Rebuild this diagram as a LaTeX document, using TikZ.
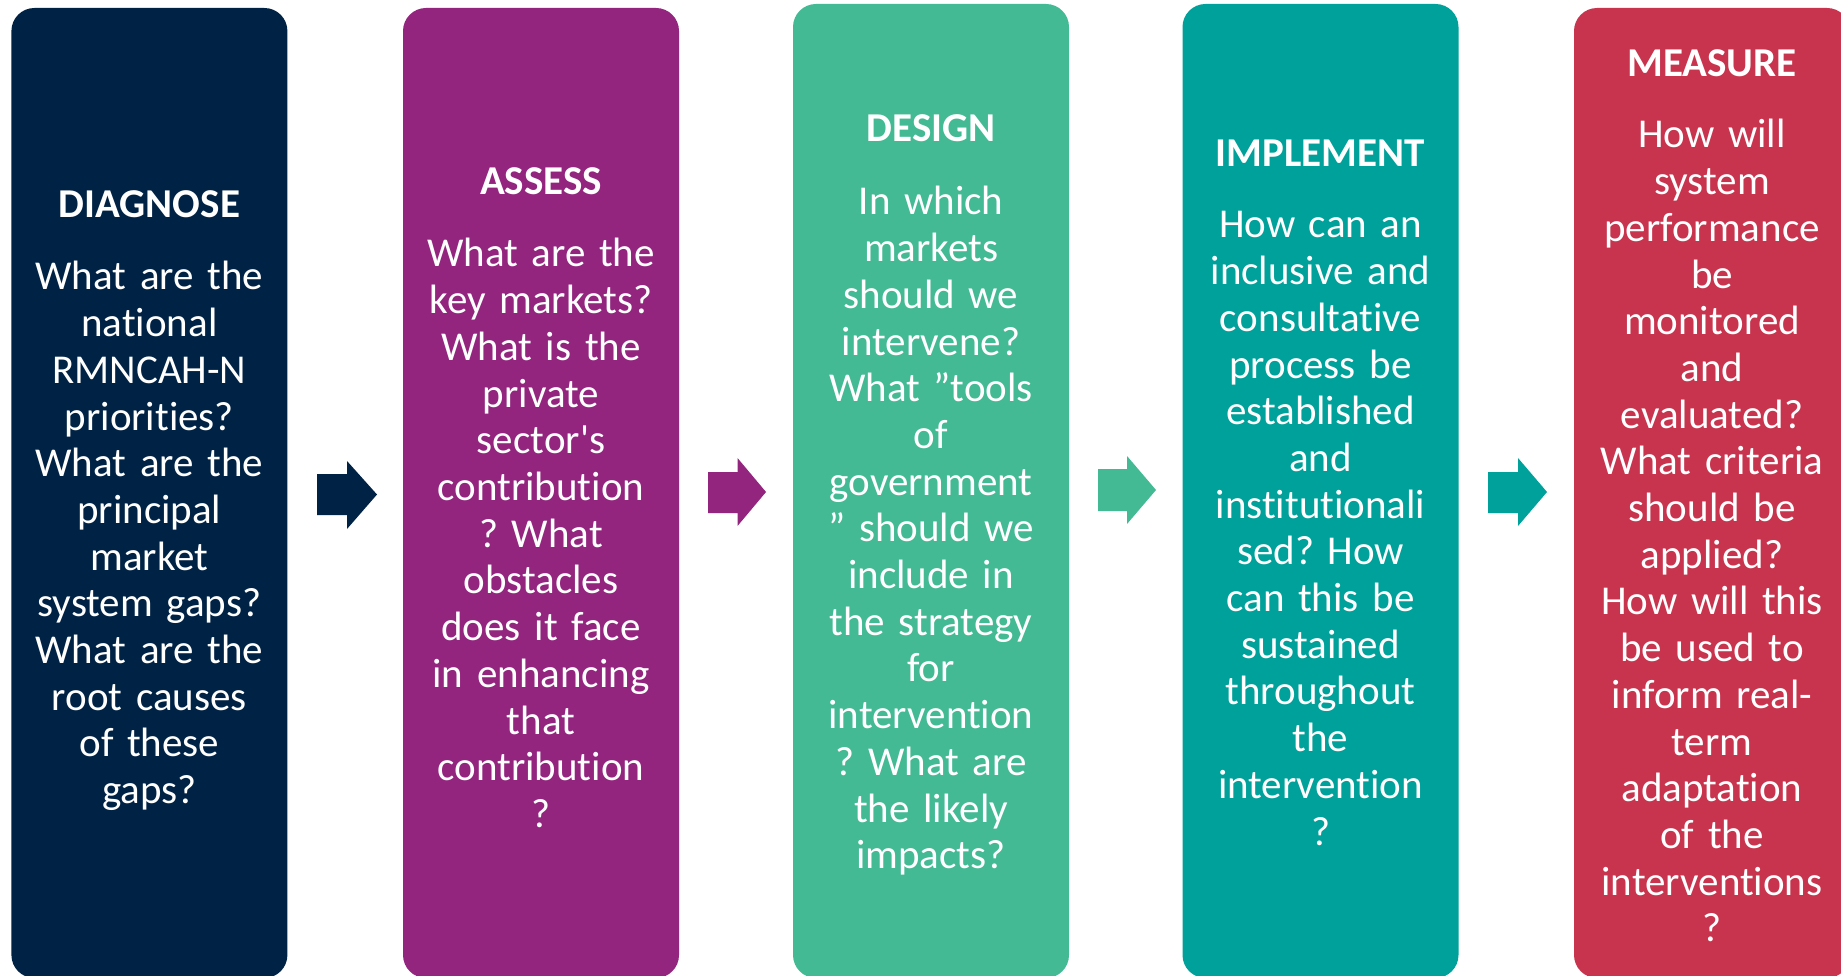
\documentclass[tikz,border=0pt]{standalone}
\usepackage{fontspec}
\setmainfont{Carlito}[Ligatures={NoCommon}]
\newfontfamily\rawcarlito{Carlito}[Ligatures={ResetAll}]
\newcommand{\straightquote}{{\rawcarlito\char"0027}}
\frenchspacing
\definecolor{cnavy}{RGB}{0,35,69}
\definecolor{cpurple}{RGB}{147,37,127}
\definecolor{cgreen}{RGB}{67,186,148}
\definecolor{cteal}{RGB}{0,161,154}
\definecolor{cred}{RGB}{200,51,77}
\tikzset{
  box/.style={rectangle, rounded corners=23pt, minimum width=276pt, inner sep=0pt, draw=none},
  hdr/.style={text=white, font=\fontsize{41}{46.7}\selectfont\bfseries, inner sep=0pt, anchor=base},
  body/.style={text=white, font=\fontsize{41}{46.7}\selectfont\frenchspacing, inner sep=0pt, anchor=base, align=center, text width=272pt}
}
\begin{document}
\begin{tikzpicture}[x=1pt,y=-1pt]
\useasboundingbox (0,0) rectangle (1841,976);
\clip (0,0) rectangle (1841,976);
\fill[white] (0,0) rectangle (1841,976);
% boxes
\node[box, fill=cnavy, minimum height=970pt] (b1) at (149.4,493) {};
\node[box, fill=cpurple, minimum height=970pt] (b2) at (541,493) {};
\node[box, fill=cgreen, minimum height=974pt] (b3) at (931,491) {};
\node[box, fill=cteal, minimum height=974pt] (b4) at (1320.5,491) {};
\node[box, fill=cred, minimum height=970pt] (b5) at (1712,493) {};
% block arrows
\fill[cnavy] (317,474) -- (347,474) -- (347,461) -- (377,494.5) -- (347,529) -- (347,515) -- (317,515) -- cycle;
\fill[cpurple] (708,472) -- (737.5,472) -- (737.5,458) -- (766,492) -- (737.5,526) -- (737.5,513) -- (708,513) -- cycle;
\fill[cgreen] (1098,469) -- (1127,469) -- (1127,456) -- (1156,490) -- (1127,524) -- (1127,511) -- (1098,511) -- cycle;
\fill[cteal] (1488,472) -- (1518,472) -- (1518,458) -- (1547,492) -- (1518,526) -- (1518,513) -- (1488,513) -- cycle;
% texts
\node[hdr] (h1) at (149.4,218) {DIAGNOSE};
\node[body] (t1) at (149.4,290) {What are the\\national\\RMNCAH-N\\priorities?\\What are the\\principal\\market\\system gaps?\\What are the\\root causes\\of these\\gaps?};
\node[hdr] (h2) at (541,195) {ASSESS};
\node[body] (t2) at (541,267) {What are the\\key markets?\\What is the\\private\\sector\straightquote s\\contribution\\? What\\obstacles\\does it face\\in enhancing\\that\\contribution\\?};
\node[hdr] (h3) at (931,142) {DESIGN};
\node[body] (t3) at (931,215) {In which\\markets\\should we\\intervene?\\What ”tools\\of\\government\\” should we\\include in\\the strategy\\for\\intervention\\? What are\\the likely\\impacts?};
\node[hdr] (h4) at (1320.5,167) {IMPLEMENT};
\node[body] (t4) at (1320.5,238) {How can an\\inclusive and\\consultative\\process be\\established\\and\\institutionali\\sed? How\\can this be\\sustained\\throughout\\the\\intervention\\?};
\node[hdr] (h5) at (1712,77) {MEASURE};
\node[body] (t5) at (1712,148) {How will\\system\\performance\\be\\monitored\\and\\evaluated?\\What criteria\\should be\\applied?\\How will this\\be used to\\inform real-\\term\\adaptation\\of the\\interventions\\?};
\end{tikzpicture}
\end{document}
